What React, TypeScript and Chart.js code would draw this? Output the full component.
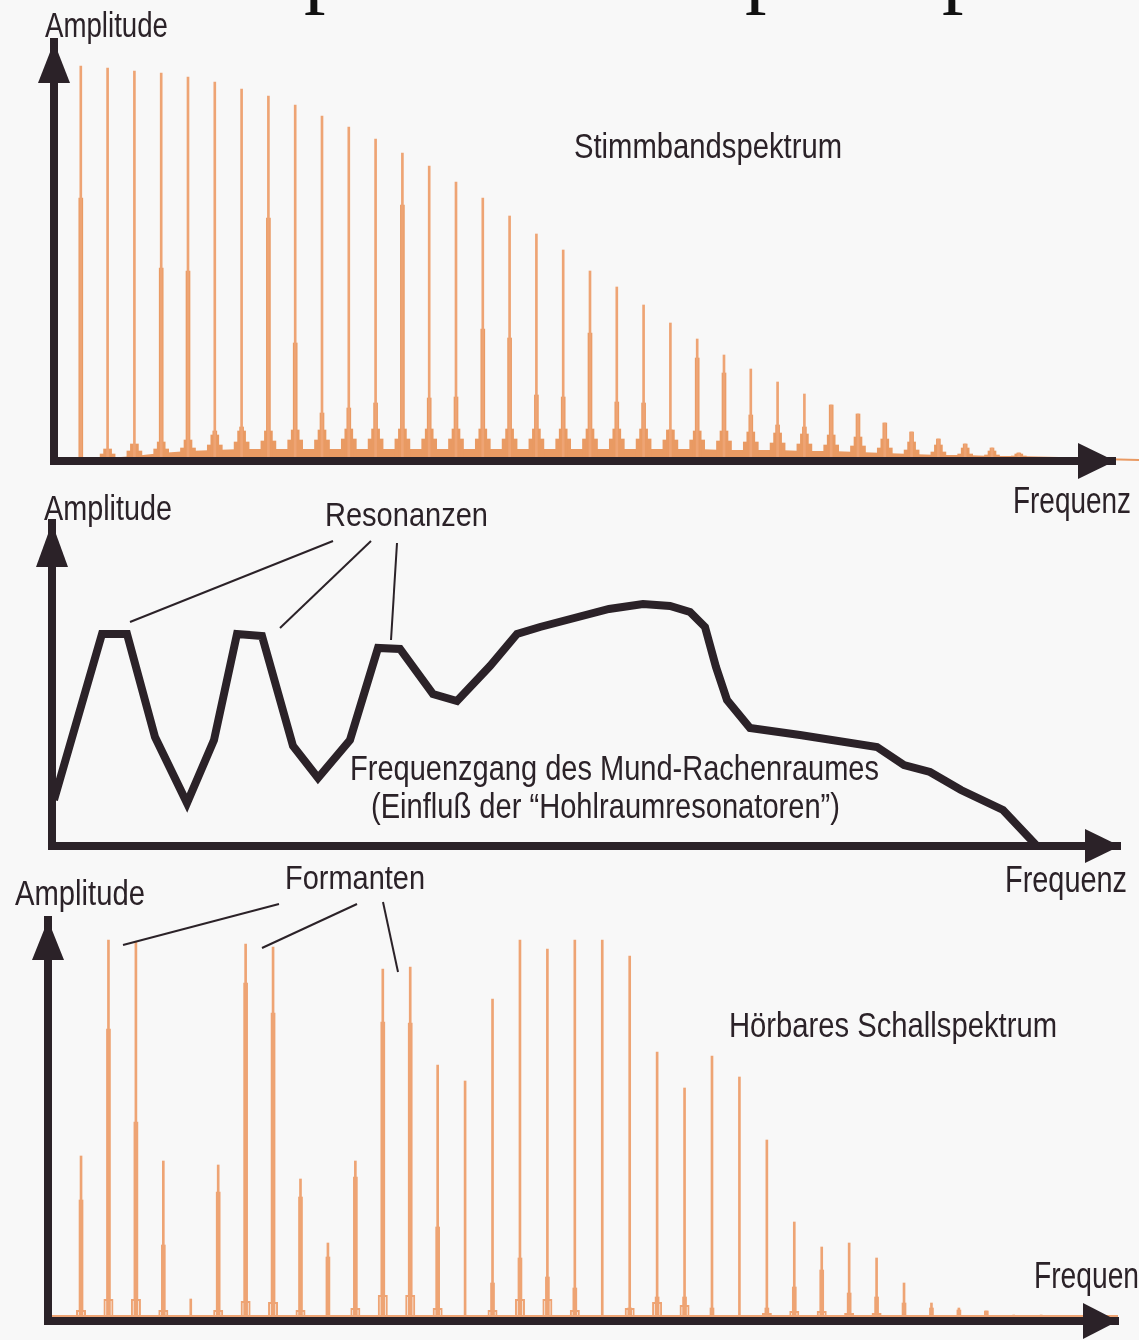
import React, { useEffect, useRef } from "react";
import { Chart, registerables } from "chart.js";

Chart.register(...registerables);

const W = 1139;
const H = 1340;

const BG = "#f8f8f8";
const INK = "#2b2228";
const ORANGE = "#e99a63";
const ORANGE_THIN = "#eea474";
const SANS = '"Liberation Sans", Arial, Helvetica, sans-serif';

// ---------------- Panel 1: Stimmbandspektrum (harmonic amplitudes) ----------------
const stimmHarmonics = [1, 2, 3, 4, 5, 6, 7, 8, 9, 10, 11, 12, 13, 14, 15, 16, 17, 18, 19, 20, 21, 22, 23, 24, 25, 26, 27, 28, 29, 30, 31, 32, 33, 34, 35, 36];
const stimmPeak = [395, 393, 390, 388, 384, 379, 372, 365, 356, 345, 334, 322, 308, 295, 279, 263, 245, 227, 211, 190, 174, 156, 138, 122, 106, 92, 79, 67, 56, 47, 38, 29, 22, 17, 13, 8];
const stimmCore = [263, 0, 0, 193, 190, 30, 34, 243, 118, 48, 53, 58, 256, 63, 64, 132, 123, 66, 64, 128, 59, 58, 31, 103, 88, 46, 36, 34, 56, 47, 38, 29, 22, 17, 13, 8];
const stimmSkirt = [0, 12, 17, 19, 21, 26, 30, 30, 31, 31, 32, 32, 32, 32, 32, 32, 32, 32, 32, 32, 32, 32, 31, 30, 30, 29, 28, 27, 26, 24, 22, 19, 16, 13, 10, 7];
const stimmFoot = [0, 7, 10, 12, 13, 16, 19, 20, 21, 21, 22, 22, 22, 22, 22, 22, 22, 22, 22, 22, 22, 22, 21, 21, 20, 19, 18, 17, 16, 15, 13, 11, 9, 7, 6, 5];
const stimmFloorX = [1, 2, 3, 4, 5, 6, 7, 8, 9, 10, 11, 12, 13, 14, 15, 16, 17, 18, 19, 20, 21, 22, 23, 24, 25, 26, 27, 28, 29, 30, 31, 32, 33, 34, 35, 36, 37.5, 40.6];
const stimmFloor = [0, 2, 4, 7, 9, 10, 11, 11, 11, 11, 11, 11, 11, 11, 11, 11, 11, 11, 11, 11, 11, 11, 11, 11, 10, 10, 10, 9, 9, 8, 7, 6, 5, 5, 4, 4, 3, 1];

// ---------------- Panel 2: Frequenzgang des Mund-Rachenraumes ----------------
const tractFreq = [2, 50, 75, 103, 135, 162, 185, 210, 241, 266, 298, 326, 348, 381, 405, 438, 465, 488, 557, 591, 618, 638, 653, 664, 675, 698, 748, 825, 852, 878, 909, 951, 984];
const tractAmp = [46, 212, 212, 109, 43, 106, 212, 210, 100, 68, 106, 198, 197, 152, 145, 180, 212, 219, 237, 242, 240, 234, 219, 179, 146, 118, 111, 99, 81, 74, 56, 36, 1];

// ---------------- Panel 3: Hörbares Schallspektrum ----------------
const schallHarmonics = [1, 2, 3, 4, 5, 6, 7, 8, 9, 10, 11, 12, 13, 14, 15, 16, 17, 18, 19, 20, 21, 22, 23, 24, 25, 26, 27, 28, 29, 30, 31, 32, 33, 34, 35, 36];
const schallPeak = [165, 381, 379, 160, 22, 156, 377, 374, 142, 78, 160, 352, 354, 256, 240, 322, 381, 372, 381, 381, 365, 269, 233, 265, 244, 181, 99, 74, 78, 63, 38, 18, 13, 10, 6, 6];
const schallCore = [121, 292, 199, 76, 0, 129, 338, 308, 124, 64, 144, 299, 298, 94, 0, 38, 63, 44, 33, 0, 13, 24, 24, 13, 0, 13, 34, 51, 28, 24, 18, 13, 11, 10, 0, 0];
const schallHump = [11, 22, 22, 11, 0, 11, 20, 19, 11, 0, 13, 26, 26, 13, 0, 11, 22, 22, 11, 0, 13, 19, 16, 0, 0, 8, 10, 10, 8, 8, 6, 6, 6, 6, 5, 5];
const schallBaseX = [-0.2, 38.8, 39.6];
const schallBase = [5, 5, 3];

// ---------------- helpers ----------------
type Area = { left: number; top: number; right: number; bottom: number };

const pad = (a: Area) => ({ left: a.left, top: a.top, right: W - a.right, bottom: H - a.bottom });

const axis = (min: number, max: number) => ({
  type: "linear",
  min,
  max,
  offset: false,
  ticks: { display: false },
  grid: { display: false, drawTicks: false, tickLength: 0 },
  border: { display: true, width: 8, color: INK, z: 1 },
  title: { display: false },
});

const pts = (xs: number[], ys: number[]) => xs.map((x, i) => ({ x, y: ys[i] }));

const barSet = (xs: number[], ys: number[], thickness: number, color: string, extra: any = {}) => ({
  type: "bar",
  data: pts(xs, ys),
  barThickness: thickness,
  backgroundColor: color,
  borderWidth: 0,
  grouped: false,
  ...extra,
});

function label(ctx: CanvasRenderingContext2D, s: string, x: number, baseline: number, size: number, width: number, fitPart?: string) {
  ctx.save();
  ctx.font = `${size}px ${SANS}`;
  ctx.textAlign = "left";
  ctx.textBaseline = "alphabetic";
  const m = ctx.measureText(fitPart ?? s).width;
  ctx.translate(x, baseline);
  ctx.scale(width / m, 1);
  ctx.fillStyle = INK;
  ctx.fillText(s, 0, 0);
  ctx.restore();
}

function arrowUp(ctx: CanvasRenderingContext2D, x: number, tip: number, len: number, half: number) {
  ctx.beginPath();
  ctx.moveTo(x, tip);
  ctx.lineTo(x + half, tip + len);
  ctx.lineTo(x - half, tip + len);
  ctx.closePath();
  ctx.fill();
}

function arrowRight(ctx: CanvasRenderingContext2D, tip: number, y: number, len: number, half: number) {
  ctx.beginPath();
  ctx.moveTo(tip, y);
  ctx.lineTo(tip - len, y - half);
  ctx.lineTo(tip - len, y + half);
  ctx.closePath();
  ctx.fill();
}

function leader(ctx: CanvasRenderingContext2D, x1: number, y1: number, x2: number, y2: number) {
  ctx.beginPath();
  ctx.moveTo(x1, y1);
  ctx.lineTo(x2, y2);
  ctx.stroke();
}

const baseOptions = (area: Area) => ({
  responsive: false,
  maintainAspectRatio: false,
  devicePixelRatio: 1,
  animation: false,
  events: [],
  layout: { padding: pad(area) },
  plugins: { legend: { display: false }, tooltip: { enabled: false }, title: { display: false } },
});

// ---------------- chart configs ----------------
const AREA1: Area = { left: 54, top: 42, right: 1115, bottom: 461 };
const AREA2: Area = { left: 52, top: 523, right: 1120, bottom: 846 };
const AREA3: Area = { left: 48, top: 920, right: 1118, bottom: 1321 };

function config1(): any {
  return {
    type: "bar",
    data: {
      datasets: [
        barSet(stimmHarmonics, stimmPeak, 2, ORANGE_THIN, { order: 1 }),
        barSet(stimmHarmonics, stimmCore, 4, ORANGE, { order: 2 }),
        barSet(stimmHarmonics, stimmSkirt, 8, ORANGE, { order: 3 }),
        barSet(stimmHarmonics, stimmFoot, 15, ORANGE, { order: 4 }),
        {
          type: "line",
          data: pts(stimmFloorX, stimmFloor),
          fill: "origin",
          backgroundColor: ORANGE,
          borderColor: ORANGE,
          borderWidth: 2,
          pointRadius: 0,
          tension: 0,
          clip: false,
          order: 5,
        },
      ],
    },
    options: {
      ...baseOptions(AREA1),
      scales: { x: axis(0, 39.59), y: axis(0, 419) },
    },
    plugins: [
      {
        id: "deco1",
        afterDraw(chart: any) {
          const { ctx, chartArea: a } = chart;
          ctx.save();
          ctx.fillStyle = INK;
          arrowUp(ctx, a.left, a.top, 41, 16);
          arrowRight(ctx, a.right, a.bottom, 37, 18);
          label(ctx, "Amplitude", 45, 37, 35, 123);
          label(ctx, "Stimmbandspektrum", 574, 158, 35, 268);
          label(ctx, "Frequenz", 1013, 513, 36, 118);
          // descenders of the heading that is cut off above the figure
          ctx.fillStyle = "#111";
          ctx.font = '86px "Liberation Serif", "Times New Roman", serif';
          ctx.fillText("p", 304, -4);
          ctx.fillText("p", 745, -4);
          ctx.fillText("p", 942, -4);
          ctx.restore();
        },
      },
    ],
  };
}

function config2(): any {
  return {
    type: "line",
    data: {
      datasets: [
        {
          data: pts(tractFreq, tractAmp),
          borderColor: INK,
          borderWidth: 8,
          borderJoinStyle: "miter",
          pointRadius: 0,
          tension: 0,
          fill: false,
        },
      ],
    },
    options: {
      ...baseOptions(AREA2),
      scales: { x: axis(0, 1068), y: axis(0, 323) },
    },
    plugins: [
      {
        id: "deco2",
        afterDraw(chart: any) {
          const { ctx, chartArea: a } = chart;
          ctx.save();
          ctx.fillStyle = INK;
          arrowUp(ctx, a.left, a.top, 44, 16);
          arrowRight(ctx, a.right, a.bottom, 35, 17);
          label(ctx, "Amplitude", 44, 520, 35, 128);
          label(ctx, "Resonanzen", 325, 526, 33, 163);
          label(ctx, "Frequenzgang des Mund-Rachenraumes", 350, 780, 35, 529);
          label(ctx, "(Einfluß der \u201CHohlraumresonatoren\u201D)", 371, 818, 35, 469);
          label(ctx, "Frequenz", 1005, 892, 36, 122);
          ctx.strokeStyle = INK;
          ctx.lineWidth = 2;
          leader(ctx, 333, 541, 130, 622);
          leader(ctx, 371, 541, 280, 628);
          leader(ctx, 397, 543, 391, 640);
          ctx.restore();
        },
      },
    ],
  };
}

function config3(): any {
  return {
    type: "bar",
    data: {
      datasets: [
        barSet(schallHarmonics, schallPeak, 2, ORANGE_THIN, { order: 1 }),
        barSet(schallHarmonics, schallCore, 4, ORANGE_THIN, { order: 2 }),
        barSet(schallHarmonics, schallHump, 10, "rgba(0,0,0,0)", {
          order: 3,
          borderWidth: 2,
          borderColor: ORANGE_THIN,
          borderSkipped: "bottom",
          inflateAmount: 0,
        }),
        {
          type: "line",
          data: pts(schallBaseX, schallBase),
          borderColor: ORANGE_THIN,
          borderWidth: 2,
          pointRadius: 0,
          fill: false,
          clip: false,
          order: 4,
        },
      ],
    },
    options: {
      ...baseOptions(AREA3),
      scales: { x: axis(-0.204, 38.8), y: axis(0, 401) },
    },
    plugins: [
      {
        id: "deco3",
        afterDraw(chart: any) {
          const { ctx, chartArea: a } = chart;
          ctx.save();
          ctx.fillStyle = INK;
          arrowUp(ctx, a.left, a.top, 40, 16);
          arrowRight(ctx, a.right, a.bottom, 35, 18);
          label(ctx, "Amplitude", 15, 905, 35, 130);
          label(ctx, "Formanten", 285, 889, 34, 140);
          label(ctx, "Hörbares Schallspektrum", 729, 1037, 35, 328);
          label(ctx, "Frequenz", 1034, 1288, 36, 105, "Frequen");
          ctx.strokeStyle = INK;
          ctx.lineWidth = 2;
          leader(ctx, 279, 904, 123, 945);
          leader(ctx, 357, 904, 262, 948);
          leader(ctx, 383, 902, 398, 972);
          ctx.restore();
        },
      },
    ],
  };
}

export default function App() {
  const r1 = useRef<HTMLCanvasElement>(null);
  const r2 = useRef<HTMLCanvasElement>(null);
  const r3 = useRef<HTMLCanvasElement>(null);

  useEffect(() => {
    const charts = [
      new Chart(r1.current as HTMLCanvasElement, config1()),
      new Chart(r2.current as HTMLCanvasElement, config2()),
      new Chart(r3.current as HTMLCanvasElement, config3()),
    ];
    return () => charts.forEach((c) => c.destroy());
  }, []);

  const cs: React.CSSProperties = { position: "absolute", left: 0, top: 0, width: W, height: H };
  return (
    <div style={{ position: "fixed", left: 0, top: 0, width: W, height: H, background: BG, overflow: "hidden" }}>
      <canvas ref={r1} width={W} height={H} style={cs} />
      <canvas ref={r2} width={W} height={H} style={cs} />
      <canvas ref={r3} width={W} height={H} style={cs} />
    </div>
  );
}
